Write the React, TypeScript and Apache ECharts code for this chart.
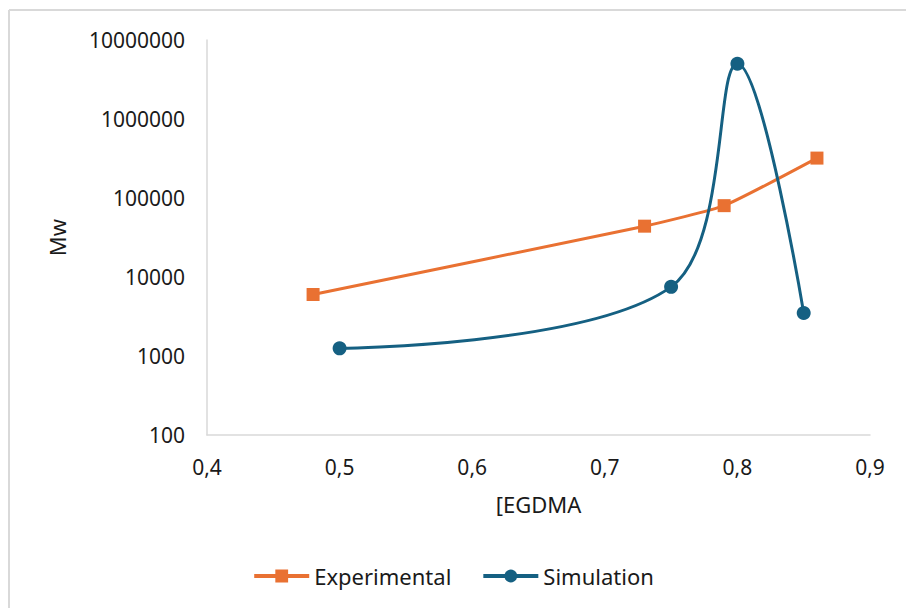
import React, { useEffect, useRef } from "react";
import * as echarts from "echarts";

const expX = [0.48, 0.73, 0.79, 0.86];
const expY = [6000, 44000, 80000, 320000];
const simX = [0.5, 0.75, 0.8, 0.85];
const simY = [1250, 7500, 5000000, 3500];
const seriesNames = ["Experimental", "Simulation"];
const xAxisTitle = "[EGDMA";
const yAxisTitle = "Mw";

const FONT = "'Noto Sans', sans-serif";

export default function App() {
  const ref = useRef<HTMLDivElement>(null);
  useEffect(() => {
    document.body.style.margin = "0";
    if (!ref.current) return;
    const chart = echarts.init(ref.current, null, { renderer: "svg" });
    const axisLine = { show: true, lineStyle: { color: "#d9d9d9", width: 1.5 } };
    chart.setOption({
      animation: false,
      backgroundColor: "#ffffff",
      textStyle: { fontFamily: FONT },
      grid: { left: 207, right: 36, top: 40, bottom: 173, containLabel: false },
      legend: {
        bottom: 16,
        left: "center",
        itemWidth: 55,
        itemHeight: 16,
        itemGap: 30,
        lineStyle: { width: 4 },
        textStyle: { fontFamily: FONT, fontSize: 22, color: "#1a1a1a" },
        data: seriesNames,
      },
      xAxis: {
        type: "value",
        min: 0.4,
        max: 0.9,
        interval: 0.1,
        name: xAxisTitle,
        nameLocation: "middle",
        nameGap: 58,
        nameTextStyle: { fontFamily: FONT, fontSize: 22, color: "#1a1a1a" },
        axisLine,
        axisTick: { show: false },
        splitLine: { show: false },
        axisLabel: {
          margin: 21,
          fontFamily: FONT,
          fontSize: 21,
          color: "#1a1a1a",
          formatter: (v: number) => v.toFixed(1).replace(".", ","),
        },
      },
      yAxis: {
        type: "log",
        logBase: 10,
        min: 100,
        max: 10000000,
        name: yAxisTitle,
        nameLocation: "middle",
        nameGap: 139,
        nameTextStyle: { fontFamily: FONT, fontSize: 22, color: "#1a1a1a" },
        axisLine,
        axisTick: { show: false },
        splitLine: { show: false },
        axisLabel: {
          margin: 22,
          fontFamily: FONT,
          fontSize: 21,
          color: "#1a1a1a",
          formatter: (v: number) => String(Math.round(v)),
        },
      },
      graphic: [
        { type: "line", shape: { x1: 9, y1: 10, x2: 906, y2: 10 }, style: { stroke: "#d9d9d9", lineWidth: 2 } },
        { type: "line", shape: { x1: 9, y1: 10, x2: 9, y2: 608 }, style: { stroke: "#d9d9d9", lineWidth: 2 } },
      ],
      series: [
        {
          name: seriesNames[0],
          type: "line",
          data: expX.map((x, i) => [x, expY[i]]),
          smooth: 0.15,
          symbol: "rect",
          symbolSize: 13,
          lineStyle: { color: "#E97132", width: 3 },
          itemStyle: { color: "#E97132" },
        },
        {
          name: seriesNames[1],
          type: "line",
          data: simX.map((x, i) => [x, simY[i]]),
          smooth: 0.35,
          symbol: "circle",
          symbolSize: 14,
          lineStyle: { color: "#156082", width: 3 },
          itemStyle: { color: "#156082" },
        },
      ],
    });
    return () => chart.dispose();
  }, []);
  return <div ref={ref} style={{ width: 906, height: 608 }} />;
}
